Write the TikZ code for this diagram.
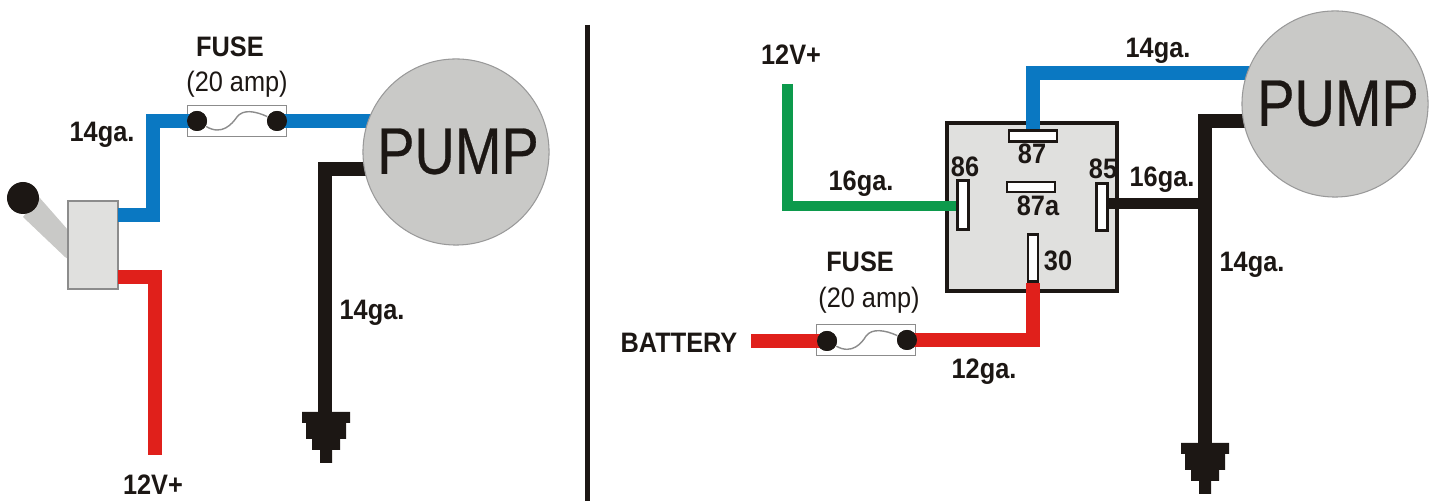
\documentclass[tikz,border=0pt]{standalone}
\usepackage{fontspec}
\setmainfont{Liberation Sans}
\newfontfamily\labelfont[FakeStretch=0.9]{Liberation Sans}
\newfontfamily\pumpfont[FakeStretch=0.85,FakeBold=0.4]{Liberation Sans}
\usepackage{tikz}
\usetikzlibrary{positioning,calc}
\definecolor{wireblue}{HTML}{0A78C2}
\definecolor{wirered}{HTML}{E0201B}
\definecolor{wiregreen}{HTML}{0C9A4C}
\definecolor{wireblack}{HTML}{1C1714}
\definecolor{pumpgray}{HTML}{C9C9C7}
\definecolor{relaygray}{HTML}{E0E0DE}
\tikzset{
wire/.style = {line width=0.135cm, line join=miter},
fuse/.style = {draw=black!45, fill=white, rectangle, line width=0.4pt, minimum width=0.99cm, minimum height=0.31cm, inner sep=0pt},
fork/.style = {draw=none, fill=wireblack, circle, minimum size=0.2cm, inner sep=0pt},
pump/.style = {draw=black!40, fill=pumpgray, circle, line width=0.3pt, minimum size=1.86cm, inner sep=0pt},
pin/.style = {draw=wireblack, fill=white, rectangle, line width=0.8pt, inner sep=0pt},
blabel/.style = {inner sep=0pt, text=wireblack, font=\labelfont\fontsize{8}{9}\selectfont\bfseries},
rlabel/.style = {inner sep=0pt, text=wireblack, font=\labelfont\fontsize{8}{9}\selectfont},
pumptext/.style = {inner sep=0pt, text=wireblack, font=\pumpfont\fontsize{18.7}{20}\selectfont},
}
\newcommand{\groundsym}[2]{\fill[wireblack,shift={(#1,#2)}] (-24,0)--(24,0)--(24,11)--(20,11)--(20,27)--(14,27)--(14,38)--(6,38)--(6,51)--(-6,51)--(-6,38)--(-14,38)--(-14,27)--(-20,27)--(-20,11)--(-24,11)--cycle;}
\begin{document}
\begin{tikzpicture}[x=0.01cm,y=-0.01cm]
        \useasboundingbox (0,0) rectangle (1434,501);
        %divider
        \draw[line width=0.05cm,wireblack] (587,25) -- (587,501);

        %switch side
        \fill[pumpgray] (39,197) -- (68,230) -- (68,259) -- (65,257) -- (23,217) -- cycle;
        \node [fork, minimum size=0.32cm] (knob) at(23,198) {};
        \node [draw=black!45, fill=relaygray, line width=0.5pt, minimum width=0.5cm, minimum height=0.88cm, inner sep=0pt] (switch) at(93,245) {};
        \coordinate (swblue) at(118,215);
        \coordinate (swred) at(118,277);
        \coordinate (redend) at(155,455);
        \node [fuse] (fuseL) at(237,121) {};
        \node [fork] (fuseLa) at(197,121) {};
        \node [fork] (fuseLb) at(277,121) {};
        \draw[black!45,line width=0.4pt] (fuseLa) .. controls (222,136) and (232,124) .. (237,117) .. controls (243,109) and (255,111) .. (fuseLb);
        \coordinate (pumpLin) at(375,121);
        \coordinate (pumpLgnd) at(375,169);
        \coordinate (gndL) at(325,415);
        \draw[wire,wireblue] (swblue) -- (153,215) -- (153,121) -- (fuseLa.center);
        \draw[wire,wireblue] (fuseLb.center) -- (pumpLin);
        \draw[wire,wirered] (swred) -- (155,277) -- (redend);
        \draw[wire,wireblack] (pumpLgnd) -- (325,169) -- (gndL);
        \groundsym{326}{412}
        \node [fork] at(197,121) {};
        \node [fork] at(277,121) {};
        \node [pump] (pumpL) at(456,152) {};
        \node [pumptext] (pumpLt) at(458,151.5) {PUMP};
        \node [blabel] (fuseLt) at(230,47) {FUSE};
        \node [rlabel] (ampL) at(237,84) {(20 amp)};
        \node [blabel] (gaA) at(102,135) {14ga.};
        \node [blabel] (gaB) at(372,313) {14ga.};
        \node [blabel] (vL) at(153,485) {12V+};

        %relay side
        \node [draw=wireblack, fill=relaygray, line width=0.9pt, minimum width=1.7cm, minimum height=1.68cm, inner sep=0pt] (relay) at(1032,207) {};
        \coordinate (vin) at(787.5,84);
        \coordinate (batt) at(751,341);
        \node [fuse] (fuseR) at(866,340) {};
        \node [fork] (fuseRa) at(827,341) {};
        \node [fork] (fuseRb) at(907,340) {};
        \draw[black!45,line width=0.4pt] (fuseRa) .. controls (852,355) and (862,343) .. (866,336) .. controls (872,328) and (885,330) .. (fuseRb);
        \coordinate (pumpRin) at(1255,73);
        \coordinate (pumpRgnd) at(1255,121);
        \coordinate (gndR) at(1205,448);
        \node [pin, minimum width=0.48cm, minimum height=0.11cm] (p87) at(1033,136) {};
        \node [pin, minimum width=0.48cm, minimum height=0.1cm] (p87a) at(1031,187) {};
        \node [pin, minimum width=0.11cm, minimum height=0.49cm] (p86) at(963,205) {};
        \node [pin, minimum width=0.11cm, minimum height=0.47cm] (p85) at(1102,207) {};
        \node [pin, minimum width=0.1cm, minimum height=0.47cm] (p30) at(1033,258) {};
        \draw[wire,wireblue] (p87.north) -- (1033,73) -- (pumpRin);
        \draw[wire,wiregreen,line width=0.105cm] (vin) -- (787.5,206) -- (p86.west |- 0,206);
        \draw[wire,wirered] (batt) -- (fuseRa.center);
        \draw[wire,wirered] (fuseRb.center) -- (1033,340) -- (p30.south);
        \draw[wire,wireblack] (pumpRgnd) -- (1205,121) -- (gndR);
        \draw[wire,wireblack,line width=0.11cm] (p85.east |- 0,204) -- (1205,204);
        \groundsym{1205}{443}
        \node [fork] at(827,341) {};
        \node [fork] at(907,340) {};
        \node [pump] (pumpR) at(1335,104) {};
        \node [pumptext] (pumpRt) at(1338,103.5) {PUMP};
        \node [blabel] (t87) at(1032,154) {87};
        \node [blabel] (t87a) at(1038,206) {87a};
        \node [blabel] (t86) at(965,167) {86};
        \node [blabel] (t85) at(1103,169) {85};
        \node [blabel] (t30) at(1058,261) {30};
        \node [blabel] (vR) at(791,55) {12V+};
        \node [blabel] (gaC) at(1158,51) {14ga.};
        \node [blabel] (gaD) at(861,184) {16ga.};
        \node [blabel] (gaE) at(1162,180) {16ga.};
        \node [blabel] (gaF) at(1252,265) {14ga.};
        \node [blabel] (gaG) at(984,372) {12ga.};
        \node [blabel] (fuseRt) at(860,262) {FUSE};
        \node [rlabel] (ampR) at(869,300) {(20 amp)};
        \node [blabel] (battT) at(679,343) {BATTERY};
\end{tikzpicture}
\end{document}
